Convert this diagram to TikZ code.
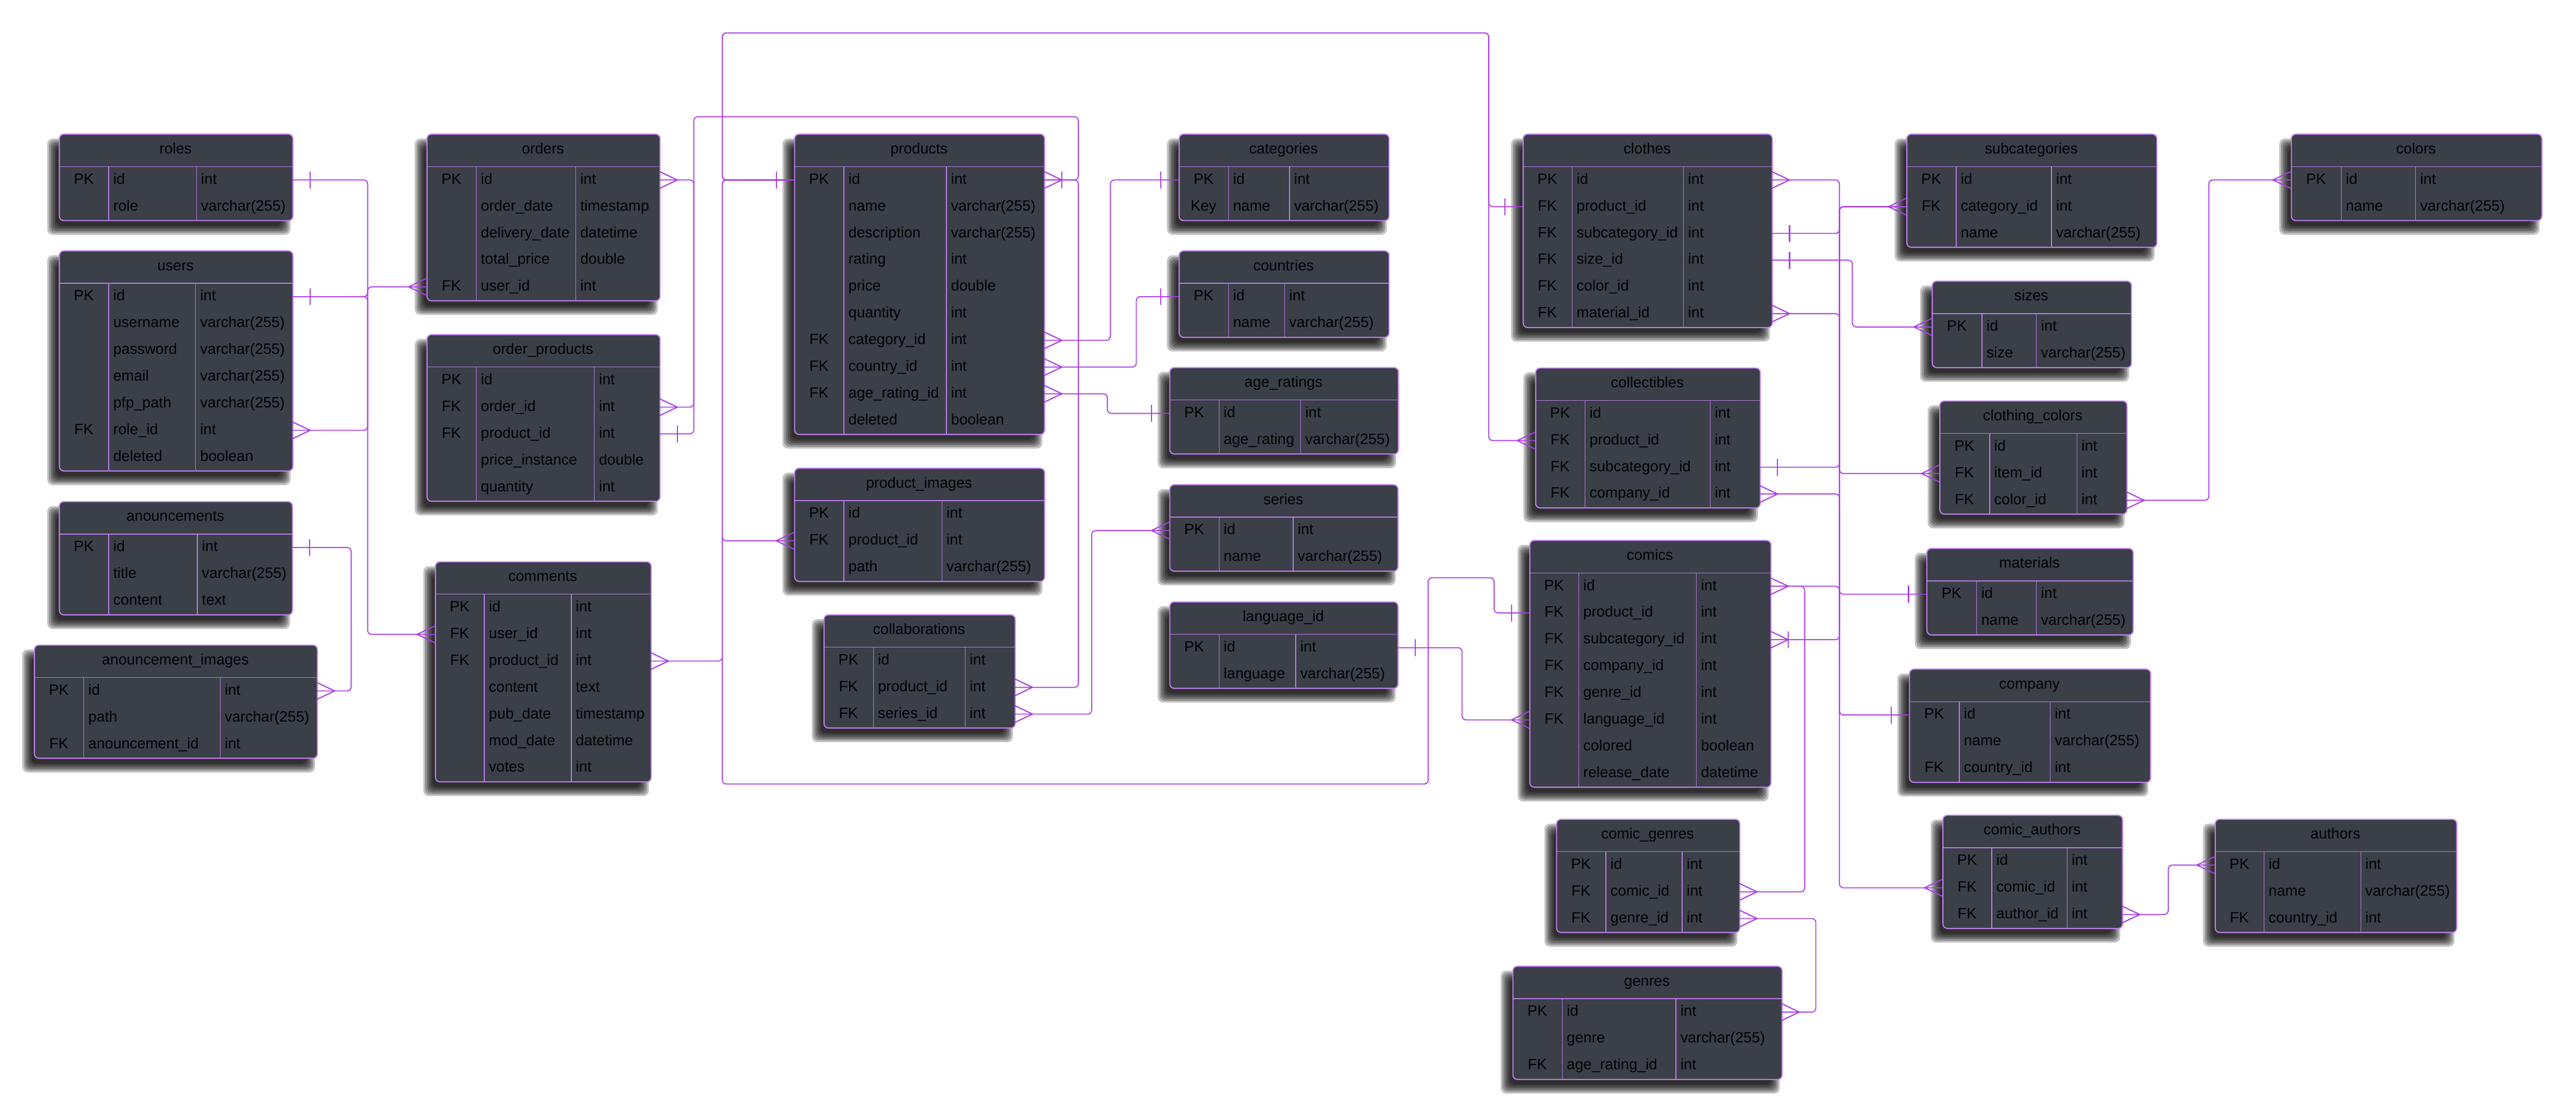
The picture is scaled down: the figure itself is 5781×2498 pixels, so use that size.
\documentclass[tikz,border=0pt]{standalone}
\usepackage{fontspec}
\setmainfont{Liberation Sans}
\usetikzlibrary{calc}
\definecolor{boxfill}{HTML}{3A3F48}
\definecolor{boxline}{HTML}{C47EF4}
\definecolor{conncol}{HTML}{A83CE6}
\tikzset{
  tablebox/.style={draw=boxline, line width=2.5pt, fill=boxfill, rounded corners=10pt, inner sep=0pt, anchor=north west},
  divline/.style={draw=boxline, line width=1.6pt},
  cellt/.style={inner sep=0pt, text=black, font=\fontsize{33.5}{40}\selectfont},
  conn/.style={draw=conncol, line width=2.2pt, rounded corners=9pt},
  foot/.style={draw=conncol, line width=2.5pt},
}
\newcommand{\ertable}[9]{%
  \pgfmathsetmacro\erybot{#4+74+60*#5}%
  \pgfmathsetmacro\erw{#3-#2}%
  \pgfmathsetmacro\erh{74+60*#5}%
  \foreach \e in {11,7,3,-1,-5,-9}{%
    \fill[black,opacity=0.24,rounded corners=12pt] (#2-15-\e, #4+22-\e) rectangle (#3-15+\e, \erybot+22+\e);
  }%
  \node[tablebox, minimum width=\erw pt, minimum height=\erh pt] (#1) at (#2,#4) {};
  \draw[divline] (#2,#4+74) -- (#3,#4+74);
  \draw[divline] (#6,#4+74) -- (#6,\erybot);
  \draw[divline] (#7,#4+74) -- (#7,\erybot);
  \node[cellt, anchor=base] (#1-title) at ({(#2+#3)/2}, #4+45) {#8};
  \foreach \erK/\erN/\erT [count=\i] in {#9}{%
    \pgfmathsetmacro\ery{#4+104+60*(\i-1)}%
    \node[cellt, anchor=base] (#1-k\i) at ({(#2+#6)/2}, \ery+9) {\erK};
    \node[cellt, anchor=base west] (#1-n\i) at (#6+10, \ery+9) {\erN};
    \node[cellt, anchor=base west] (#1-t\i) at (#7+10, \ery+9) {\erT};
    \coordinate (#1-L\i) at (#2, \ery);
    \coordinate (#1-R\i) at (#3, \ery);
  }%
}
\newcommand{\crowR}[1]{\draw[foot] ($(#1)+(0,-19)$) -- ($(#1)+(40,0)$) -- ($(#1)+(0,19)$);}
\newcommand{\crowL}[1]{\draw[foot] ($(#1)+(0,-19)$) -- ($(#1)+(-40,0)$) -- ($(#1)+(0,19)$);}
\newcommand{\tickR}[1]{\draw[foot] ($(#1)+(40,-19)$) -- ($(#1)+(40,19)$);}
\newcommand{\tickL}[1]{\draw[foot] ($(#1)+(-40,-19)$) -- ($(#1)+(-40,19)$);}
\begin{document}
\begin{tikzpicture}[x=1pt,y=-1pt]
\fill[white] (0,0) rectangle (5781,2498);
\useasboundingbox (0,0) rectangle (5781,2498);

% ---------- tables ----------
\ertable{roles}{132}{656}{300}{2}{244}{441}{roles}{PK/id/int, ~/role/varchar(255)}
\ertable{users}{132}{656}{562}{7}{244}{439}{users}{PK/id/int, ~/username/varchar(255), ~/password/varchar(255), ~/email/varchar(255), ~/pfp\_path/varchar(255), FK/role\_id/int, ~/deleted/boolean}
\ertable{anouncements}{132}{655}{1125}{3}{244}{443}{anouncements}{PK/id/int, ~/title/varchar(255), ~/content/text}
\ertable{anouncementimages}{76}{711}{1447}{3}{188}{494}{anouncement\_images}{PK/id/int, ~/path/varchar(255), FK/anouncement\_id/int}
\ertable{orders}{957}{1480}{300}{5}{1069}{1292}{orders}{PK/id/int, ~/order\_date/timestamp, ~/delivery\_date/datetime, ~/total\_price/double, FK/user\_id/int}
\ertable{orderproducts}{957}{1480}{750}{5}{1069}{1334}{order\_products}{PK/id/int, FK/order\_id/int, FK/product\_id/int, ~/price\_instance/double, ~/quantity/int}
\ertable{comments}{976}{1460}{1260}{7}{1087}{1282}{comments}{PK/id/int, FK/user\_id/int, FK/product\_id/int, ~/content/text, ~/pub\_date/timestamp, ~/mod\_date/datetime, ~/votes/int}
\ertable{products}{1782}{2343}{300}{10}{1894}{2124}{products}{PK/id/int, ~/name/varchar(255), ~/description/varchar(255), ~/rating/int, ~/price/double, ~/quantity/int, FK/category\_id/int, FK/country\_id/int, FK/age\_rating\_id/int, ~/deleted/boolean}
\ertable{productimages}{1782}{2343}{1050}{3}{1894}{2114}{product\_images}{PK/id/int, FK/product\_id/int, ~/path/varchar(255)}
\ertable{collaborations}{1848}{2277}{1379}{3}{1960}{2166}{collaborations}{PK/id/int, FK/product\_id/int, FK/series\_id/int}
\ertable{categories}{2645}{3116}{300}{2}{2757}{2894}{categories}{PK/id/int, Key/name/varchar(255)}
\ertable{countries}{2645}{3116}{562}{2}{2757}{2883}{countries}{PK/id/int, ~/name/varchar(255)}
\ertable{ageratings}{2624}{3137}{824}{2}{2736}{2919}{age\_ratings}{PK/id/int, ~/age\_rating/varchar(255)}
\ertable{series}{2624}{3136}{1087}{2}{2736}{2902}{series}{PK/id/int, ~/name/varchar(255)}
\ertable{languageid}{2624}{3136}{1350}{2}{2736}{2908}{language\_id}{PK/id/int, ~/language/varchar(255)}
\ertable{clothes}{3417}{3976}{300}{6}{3528}{3778}{clothes}{PK/id/int, FK/product\_id/int, FK/subcategory\_id/int, FK/size\_id/int, FK/color\_id/int, FK/material\_id/int}
\ertable{collectibles}{3445}{3949}{825}{4}{3557}{3838}{collectibles}{PK/id/int, FK/product\_id/int, FK/subcategory\_id/int, FK/company\_id/int}
\ertable{comics}{3432}{3973}{1212}{8}{3543}{3807}{comics}{PK/id/int, FK/product\_id/int, FK/subcategory\_id/int, FK/company\_id/int, FK/genre\_id/int, FK/language\_id/int, ~/colored/boolean, ~/release\_date/datetime}
\ertable{comicgenres}{3492}{3903}{1838}{3}{3604}{3775}{comic\_genres}{PK/id/int, FK/comic\_id/int, FK/genre\_id/int}
\ertable{genres}{3394}{3998}{2168}{3}{3506}{3761}{genres}{PK/id/int, ~/genre/varchar(255), FK/age\_rating\_id/int}
\ertable{subcategories}{4278}{4839}{300}{3}{4390}{4604}{subcategories}{PK/id/int, FK/category\_id/int, ~/name/varchar(255)}
\ertable{sizes}{4335}{4782}{630}{2}{4448}{4570}{sizes}{PK/id/int, ~/size/varchar(255)}
\ertable{clothingcolors}{4352}{4772}{899}{3}{4465}{4661}{clothing\_colors}{PK/id/int, FK/item\_id/int, FK/color\_id/int}
\ertable{materials}{4323}{4786}{1230}{2}{4436}{4570}{materials}{PK/id/int, ~/name/varchar(255)}
\ertable{company}{4284}{4825}{1501}{3}{4397}{4601}{company}{PK/id/int, ~/name/varchar(255), FK/country\_id/int}
\ertable{comicauthors}{4359}{4762}{1829}{3}{4470}{4639}{comic\_authors}{PK/id/int, FK/comic\_id/int, FK/author\_id/int}
\ertable{authors}{4970}{5512}{1838}{3}{5081}{5298}{authors}{PK/id/int, ~/name/varchar(255), FK/country\_id/int}
\ertable{colors}{5141}{5703}{300}{2}{5254}{5421}{colors}{PK/id/int, ~/name/varchar(255)}

% ---------- routing guides ----------
\coordinate (bA) at (825,0);
\coordinate (bAnn) at (788,0);
\coordinate (bOrd) at (1557,0);
\coordinate (bProdL) at (1621,0);
\coordinate (bProdR) at (2420,0);
\coordinate (bCat) at (2492,0);
\coordinate (bCountry) at (2550,0);
\coordinate (bAge) at (2485,0);
\coordinate (bSeries) at (2450,0);
\coordinate (bTopR) at (3341,0);
\coordinate (bBotR) at (3205,0);
\coordinate (bCP) at (3353,0);
\coordinate (bLang) at (3281,0);
\coordinate (bR) at (4128,0);
\coordinate (bSize) at (4157,0);
\coordinate (bColors) at (4957,0);
\coordinate (bCG) at (4050,0);
\coordinate (bGen) at (4075,0);
\coordinate (bAuth) at (4866,0);
\coordinate (ytop) at (0,74);
\coordinate (ytwo) at (0,262);
\coordinate (ybot) at (0,1760);
\coordinate (ycp) at (0,1297);

% ---------- connectors ----------
% left group
\draw[conn] (roles-R1) -- (roles-R1 -| bA) |- (users-R6);
\tickR{roles-R1} \crowR{users-R6}
\draw[conn] (users-R1) -- (users-R1 -| bA) |- (orders-L5);
\draw[conn] (users-R1) -- (users-R1 -| bA) |- (comments-L2);
\tickR{users-R1} \crowL{orders-L5} \crowL{comments-L2}
\draw[conn] (anouncements-R1) -- (anouncements-R1 -| bAnn) |- (anouncementimages-R1);
\tickR{anouncements-R1} \crowR{anouncementimages-R1}
\draw[conn] (orders-R1) -- (orders-R1 -| bOrd) |- (orderproducts-R2);
\crowR{orders-R1} \crowR{orderproducts-R2}
\draw[conn] (orderproducts-R3) -- (orderproducts-R3 -| bOrd) -- (bOrd |- ytwo) -- (bProdR |- ytwo) -- (products-R1 -| bProdR) -- (products-R1);
\tickR{orderproducts-R3} \crowR{products-R1} \tickR{products-R1}
\draw[conn] (products-R1) -- (products-R1 -| bProdR) |- (collaborations-R2);
\crowR{collaborations-R2}
% products left bus
\draw[conn] (products-L1) -- (products-L1 -| bProdL) |- (comments-R3);
\draw[conn] (products-L1) -- (products-L1 -| bProdL) |- (productimages-L2);
\draw[conn] (products-L1) -- (products-L1 -| bProdL) -- (bProdL |- ytop) -- (bTopR |- ytop) -- (clothes-L2 -| bTopR) -- (clothes-L2);
\draw[conn] (products-L1) -- (products-L1 -| bProdL) -- (bProdL |- ytop) -- (bTopR |- ytop) -- (collectibles-L2 -| bTopR) -- (collectibles-L2);
\draw[conn] (products-L1) -- (products-L1 -| bProdL) -- (bProdL |- ybot) -- (bBotR |- ybot) -- (bBotR |- ycp) -- (bCP |- ycp) -- (comics-L2 -| bCP) -- (comics-L2);
\tickL{products-L1} \crowR{comments-R3} \crowL{productimages-L2}
\tickL{clothes-L2} \crowL{collectibles-L2} \tickL{comics-L2}
% products right side
\draw[conn] (products-R7) -- (products-R7 -| bCat) |- (categories-L1);
\draw[conn] (products-R8) -- (products-R8 -| bCountry) |- (countries-L1);
\draw[conn] (products-R9) -- (products-R9 -| bAge) |- (ageratings-L1);
\crowR{products-R7} \crowR{products-R8} \crowR{products-R9}
\tickL{categories-L1} \tickL{countries-L1} \tickL{ageratings-L1}
\draw[conn] (collaborations-R3) -- (collaborations-R3 -| bSeries) |- (series-L1);
\crowR{collaborations-R3} \crowL{series-L1}
\draw[conn] (languageid-R1) -- (languageid-R1 -| bLang) |- (comics-L6);
\tickR{languageid-R1} \crowL{comics-L6}
% right group
\draw[conn] (clothes-R1) -- (clothes-R1 -| bR) |- (clothingcolors-L2);
\crowR{clothes-R1} \crowL{clothingcolors-L2}
\draw[conn] (clothes-R3) -- (clothes-R3 -| bR) |- (subcategories-L2);
\tickR{clothes-R3} \crowL{subcategories-L2}
\draw[conn] (clothes-R4) -- (clothes-R4 -| bSize) |- (sizes-L1);
\tickR{clothes-R4} \crowL{sizes-L1}
\draw[conn] (clothes-R6) -- (clothes-R6 -| bR) |- (materials-L1);
\crowR{clothes-R6} \tickL{materials-L1}
\draw[conn] (collectibles-R3) -- (collectibles-R3 -| bR) |- (subcategories-L2);
\tickR{collectibles-R3}
\draw[conn] (collectibles-R4) -- (collectibles-R4 -| bR) |- (company-L1);
\crowR{collectibles-R4} \tickL{company-L1}
\draw[conn] (clothingcolors-R3) -- (clothingcolors-R3 -| bColors) |- (colors-L1);
\crowR{clothingcolors-R3} \crowL{colors-L1}
\draw[conn] (comics-R1) -- (comics-R1 -| bR) |- (comicauthors-L2);
\draw[conn] (comics-R1) -- (comics-R1 -| bCG) |- (comicgenres-R2);
\crowR{comics-R1} \crowL{comicauthors-L2} \crowR{comicgenres-R2}
\draw[conn] (comics-R3) -- (comics-R3 -| bR) |- (subcategories-L2);
\crowR{comics-R3} \tickR{comics-R3}
\draw[conn] (comicgenres-R3) -- (comicgenres-R3 -| bGen) |- (genres-R1);
\crowR{comicgenres-R3} \crowR{genres-R1}
\draw[conn] (comicauthors-R3) -- (comicauthors-R3 -| bAuth) |- (authors-L1);
\crowR{comicauthors-R3} \crowL{authors-L1}
\end{tikzpicture}
\end{document}
